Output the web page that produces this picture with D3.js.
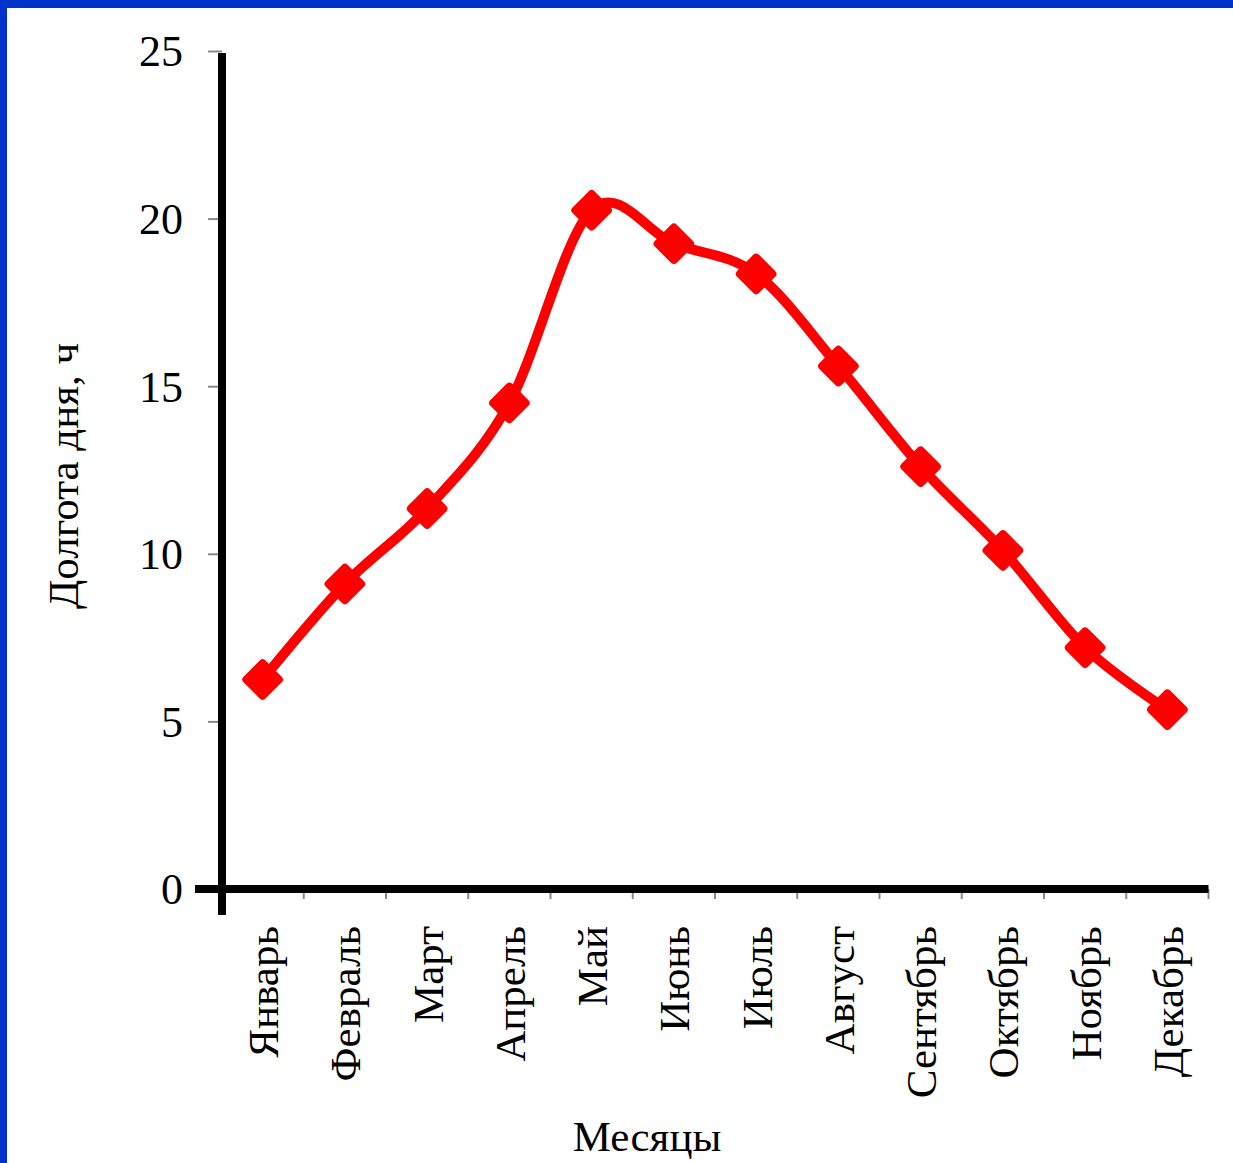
<!DOCTYPE html>
<html>
<head>
<meta charset="utf-8">
<script src="https://cdn.jsdelivr.net/npm/d3@7"></script>
<style>
  html, body { margin: 0; padding: 0; background: #fff; }
  svg { display: block; }
  text { font-family: "Liberation Serif", "Times New Roman", serif; fill: #000; }
</style>
</head>
<body>
<script>
// Average day length by month, hours
const months = ["Январь", "Февраль", "Март", "Апрель", "Май", "Июнь",
                "Июль", "Август", "Сентябрь", "Октябрь", "Ноябрь", "Декабрь"];
const dayLength = [6.25, 9.1, 11.35, 14.5, 20.25, 19.25, 18.35, 15.6, 12.6, 10.1, 7.2, 5.35];
const yTicks = [0, 5, 10, 15, 20, 25];
const yTitle = "Долгота дня, ч";
const xTitle = "Месяцы";

const W = 1233, H = 1163;
const TICK_FONT = 44;
const LABEL_FONT = 43;

const svg = d3.select("body").append("svg")
  .attr("width", W).attr("height", H);

svg.append("rect").attr("width", W).attr("height", H).attr("fill", "#fff");

// frame bands along the top and left edges
svg.append("rect").attr("x", 0).attr("y", 0).attr("width", W).attr("height", 8).attr("fill", "#0033cc");
svg.append("rect").attr("x", 0).attr("y", 0).attr("width", 7).attr("height", H).attr("fill", "#0033cc");

const x = d3.scaleBand().domain(months).range([221.5, 1208.5]).padding(0);
const y = d3.scaleLinear().domain([0, 25]).range([889, 51]);
const x0 = 222;

// y ticks and labels
const yAxis = svg.append("g")
  .attr("transform", `translate(${x0},0)`)
  .call(d3.axisLeft(y).tickValues(yTicks).tickSize(14).tickPadding(25).tickFormat(d3.format("d")));
yAxis.select(".domain").remove();
yAxis.selectAll(".tick line").attr("stroke", "#888").attr("stroke-width", 2);
yAxis.selectAll(".tick text")
  .attr("font-family", "Liberation Serif, Times New Roman, serif")
  .attr("font-size", TICK_FONT).attr("fill", "#000").attr("dy", "0.34em");

// x boundary ticks
svg.append("g").selectAll("line")
  .data(months)
  .join("line")
  .attr("x1", d => x(d) + x.bandwidth())
  .attr("x2", d => x(d) + x.bandwidth())
  .attr("y1", y(0))
  .attr("y2", y(0) + 10)
  .attr("stroke", "#888").attr("stroke-width", 2);

// axis lines
svg.append("line")
  .attr("x1", 195).attr("x2", x.range()[1])
  .attr("y1", y(0)).attr("y2", y(0))
  .attr("stroke", "#000").attr("stroke-width", 8);
svg.append("line")
  .attr("x1", x0).attr("x2", x0)
  .attr("y1", y(25) + 2).attr("y2", 915)
  .attr("stroke", "#000").attr("stroke-width", 8);

// month labels, rotated
svg.append("g").selectAll("text")
  .data(months)
  .join("text")
  .attr("transform", d => `translate(${x(d) + x.bandwidth() / 2},926) rotate(-90)`)
  .attr("text-anchor", "end")
  .attr("dy", "0.36em")
  .attr("font-size", LABEL_FONT)
  .text(d => d);

// axis titles
svg.append("text")
  .attr("transform", `translate(78,476) rotate(-90)`)
  .attr("text-anchor", "middle")
  .attr("font-size", LABEL_FONT)
  .text(yTitle);
svg.append("text")
  .attr("x", 647).attr("y", 1151)
  .attr("text-anchor", "middle")
  .attr("font-size", LABEL_FONT)
  .text(xTitle);

// smoothed series line
const pts = months.map((m, i) => [x(m) + x.bandwidth() / 2, y(dayLength[i])]);
const line = d3.line().curve(d3.curveCardinal.tension(0));
svg.append("path")
  .attr("d", line(pts))
  .attr("fill", "none")
  .attr("stroke", "#ff0000")
  .attr("stroke-width", 10)
  .attr("stroke-linejoin", "round")
  .attr("stroke-linecap", "round");

// diamond markers
const s = 31;
svg.append("g").selectAll("rect")
  .data(pts)
  .join("rect")
  .attr("transform", d => `translate(${d[0]},${d[1]}) rotate(45)`)
  .attr("x", -s / 2).attr("y", -s / 2)
  .attr("width", s).attr("height", s)
  .attr("rx", 4).attr("ry", 4)
  .attr("fill", "#ff0000");
</script>
</body>
</html>
